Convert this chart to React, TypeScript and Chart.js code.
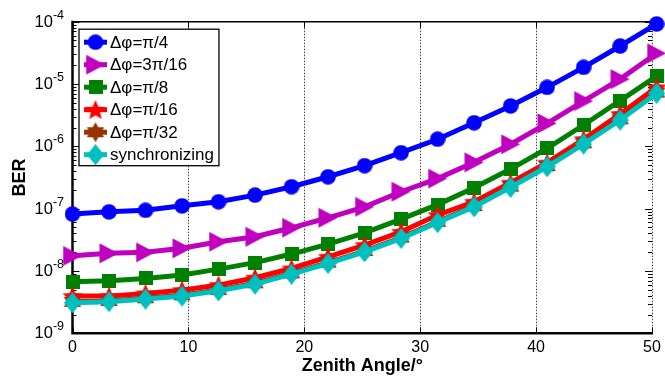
import React, { useEffect, useRef } from "react";
import { Chart, registerables } from "chart.js";

Chart.register(...registerables);

const ANGLES = [0, 3.15, 6.3, 9.45, 12.6, 15.75, 18.9, 22.05, 25.2, 28.35, 31.5, 34.65, 37.8, 40.95, 44.1, 47.25, 50.4];
const LABELS = ["Δφ=π/4", "Δφ=3π/16", "Δφ=π/8", "Δφ=π/16", "Δφ=π/32", "synchronizing"];
const BER_PI4 = [8.2e-8, 8.9e-8, 9.4e-8, 1.11e-7, 1.29e-7, 1.65e-7, 2.25e-7, 3.25e-7, 4.9e-7, 7.9e-7, 1.3e-6, 2.39e-6, 4.44e-6, 8.85e-6, 1.85e-5, 4.07e-5, 9.2e-5];
const BER_3PI16 = [1.75e-8, 1.92e-8, 1.99e-8, 2.31e-8, 2.94e-8, 3.54e-8, 4.93e-8, 7.14e-8, 1.07e-7, 1.87e-7, 3.04e-7, 5.54e-7, 1.08e-6, 2.34e-6, 5.33e-6, 1.2e-5, 3.11e-5];
const BER_PI8 = [6.7e-9, 6.97e-9, 7.6e-9, 8.6e-9, 1.07e-8, 1.36e-8, 1.87e-8, 2.7e-8, 4.1e-8, 6.8e-8, 1.16e-7, 2.16e-7, 4.32e-7, 9.3e-7, 2.2e-6, 5.4e-6, 1.34e-5];
const BER_PI16 = [3.95e-9, 3.95e-9, 4.37e-9, 4.93e-9, 5.94e-9, 7.8e-9, 1.1e-8, 1.69e-8, 2.6e-8, 4.26e-8, 7.9e-8, 1.29e-7, 2.6e-7, 5.46e-7, 1.3e-6, 3.3e-6, 8.85e-6];
const BER_PI32 = [3.2e-9, 3.3e-9, 3.65e-9, 4.07e-9, 4.95e-9, 6.35e-9, 9.15e-9, 1.36e-8, 2.09e-8, 3.43e-8, 6.15e-8, 1.1e-7, 2.26e-7, 4.84e-7, 1.12e-6, 2.72e-6, 7.3e-6];
const BER_SYNC = [3.09e-9, 3.21e-9, 3.54e-9, 3.95e-9, 4.8e-9, 6.17e-9, 8.9e-9, 1.32e-8, 2.03e-8, 3.33e-8, 5.98e-8, 1.07e-7, 2.2e-7, 4.7e-7, 1.09e-6, 2.64e-6, 7.1e-6];
const SERIES = [BER_PI4, BER_3PI16, BER_PI8, BER_PI16, BER_PI32, BER_SYNC];
const COLORS = ["#0000ff", "#bf00bf", "#008000", "#ff0000", "#993300", "#00bfbf"];
const X_TICKS = [0, 10, 20, 30, 40, 50];
const Y_EXPONENTS = [-9, -8, -7, -6, -5, -4];
const X_TITLE = "Zenith Angle/°";
const Y_TITLE = "BER";

const FONT = '"Liberation Sans", Arial, sans-serif';

function makeMarker(w: number, h: number, color: string, draw: (ctx: CanvasRenderingContext2D, w: number, h: number) => void) {
  const c = document.createElement("canvas");
  c.width = w;
  c.height = h;
  const ctx = c.getContext("2d")!;
  ctx.fillStyle = color;
  ctx.strokeStyle = color;
  ctx.lineWidth = 1;
  ctx.beginPath();
  draw(ctx, w, h);
  ctx.closePath();
  ctx.fill();
  return c;
}

function starPath(ctx: CanvasRenderingContext2D, cx: number, cy: number, n: number, R: number, r: number) {
  for (let i = 0; i < 2 * n; i++) {
    const a = -Math.PI / 2 + (i * Math.PI) / n;
    const rad = i % 2 === 0 ? R : r;
    const x = cx + Math.cos(a) * rad;
    const y = cy + Math.sin(a) * rad;
    if (i === 0) ctx.moveTo(x, y);
    else ctx.lineTo(x, y);
  }
}

function buildMarkers() {
  return [
    makeMarker(16, 16, COLORS[0], (ctx) => ctx.arc(8, 8, 7.8, 0, Math.PI * 2)),
    makeMarker(20, 21, COLORS[1], (ctx) => {
      ctx.moveTo(0.5, 0.5);
      ctx.lineTo(19.5, 10.5);
      ctx.lineTo(0.5, 20.5);
    }),
    makeMarker(14, 14, COLORS[2], (ctx) => ctx.rect(0, 0, 14, 14)),
    makeMarker(22, 22, COLORS[3], (ctx) => starPath(ctx, 11, 11.8, 5, 10.5, 4.8)),
    makeMarker(22, 22, COLORS[4], (ctx) => starPath(ctx, 11, 11, 6, 10, 5.8)),
    makeMarker(17, 21, COLORS[5], (ctx) => {
      ctx.moveTo(8.5, 0);
      ctx.lineTo(17, 10.5);
      ctx.lineTo(8.5, 21);
      ctx.lineTo(0, 10.5);
    }),
  ];
}

const framePlugin = {
  id: "matlabFrame",
  beforeDatasetsDraw(chart: any) {
    const { ctx, chartArea: a, scales } = chart;
    const xs = scales.x;
    const ys = scales.y;
    ctx.save();
    // dotted vertical grid lines
    ctx.strokeStyle = "#444";
    ctx.lineWidth = 1;
    ctx.setLineDash([1.5, 1.5]);
    X_TICKS.forEach((v) => {
      if (v === X_TICKS[0]) return;
      const px = Math.round(xs.getPixelForValue(v)) + 0.5;
      ctx.beginPath();
      ctx.moveTo(px, a.top);
      ctx.lineTo(px, a.bottom);
      ctx.stroke();
    });
    ctx.setLineDash([]);
    ctx.strokeStyle = "#000";
    ctx.lineWidth = 1;
    X_TICKS.forEach((v) => {
      const px = Math.round(xs.getPixelForValue(v)) + 0.5;
      ctx.beginPath();
      ctx.moveTo(px, a.top);
      ctx.lineTo(px, a.top + 6);
      ctx.moveTo(px, a.bottom);
      ctx.lineTo(px, a.bottom - 6);
      ctx.stroke();
    });
    Y_EXPONENTS.forEach((e, idx) => {
      for (let m = 1; m <= 9; m++) {
        if (idx === Y_EXPONENTS.length - 1 && m > 1) break;
        const py = Math.round(ys.getPixelForValue(m * Math.pow(10, e))) + 0.5;
        const len = m === 1 ? 7 : 4;
        ctx.beginPath();
        ctx.moveTo(a.left, py);
        ctx.lineTo(a.left + len, py);
        ctx.moveTo(a.right, py);
        ctx.lineTo(a.right - len, py);
        ctx.stroke();
      }
    });
    ctx.lineWidth = 1.5;
    ctx.beginPath();
    ctx.moveTo(a.left, a.top);
    ctx.lineTo(a.right + 1, a.top);
    ctx.stroke();
    ctx.lineWidth = 2.5;
    ctx.beginPath();
    ctx.moveTo(a.left, a.top - 1);
    ctx.lineTo(a.left, a.bottom);
    ctx.lineTo(a.right + 1, a.bottom);
    ctx.stroke();

    // tick labels
    ctx.fillStyle = "#000";
    ctx.font = `16px ${FONT}`;
    ctx.textAlign = "center";
    ctx.textBaseline = "middle";
    X_TICKS.forEach((v) => {
      ctx.fillText(String(v), xs.getPixelForValue(v), a.bottom + 14);
    });
    Y_EXPONENTS.forEach((e) => {
      const py = ys.getPixelForValue(Math.pow(10, e));
      const expText = String(e);
      ctx.font = `12.5px ${FONT}`;
      const ew = ctx.measureText(expText).width;
      const right = a.left - 8.5;
      ctx.textAlign = "left";
      ctx.textBaseline = "middle";
      ctx.fillText(expText, right - ew, py - 6.5);
      ctx.font = `16.5px ${FONT}`;
      ctx.textAlign = "right";
      ctx.fillText("10", right - ew, py + 0.5);
    });
    // axis titles
    ctx.font = `bold 18px ${FONT}`;
    ctx.textAlign = "center";
    ctx.textBaseline = "middle";
    ctx.fillText(X_TITLE, (a.left + a.right) / 2, a.bottom + 33);
    ctx.translate(20, (a.top + a.bottom) / 2);
    ctx.rotate(-Math.PI / 2);
    ctx.fillText(Y_TITLE, 0, 0);
    ctx.restore();
  },
  afterDraw(chart: any) {
    const { ctx, chartArea: a } = chart;
    const ds = chart.data.datasets;
    ctx.save();
    ctx.font = `17px ${FONT}`;
    let maxW = 0;
    ds.forEach((d: any) => {
      maxW = Math.max(maxW, ctx.measureText(d.label).width);
    });
    const left = a.left + 6.5;
    const top = a.top + 7.5;
    const rowH = 22.5;
    const w = 31 + maxW + 5;
    const h = rowH * ds.length + 1.5;
    ctx.fillStyle = "#fff";
    ctx.fillRect(left, top, w, h);
    ctx.strokeStyle = "#000";
    ctx.lineWidth = 1.3;
    ctx.strokeRect(left, top, w, h);
    ds.forEach((d: any, i: number) => {
      const cy = top + 13 + i * rowH;
      ctx.strokeStyle = d.borderColor;
      ctx.lineWidth = 5;
      ctx.beginPath();
      ctx.moveTo(left + 5, cy);
      ctx.lineTo(left + 28, cy);
      ctx.stroke();
      const img = d.pointStyle;
      ctx.drawImage(img, left + 16.5 - img.width / 2, cy - img.height / 2);
      ctx.fillStyle = "#000";
      ctx.textAlign = "left";
      ctx.textBaseline = "middle";
      ctx.fillText(d.label, left + 31, cy + 1);
    });
    ctx.restore();
  },
};

export default function App() {
  const ref = useRef<HTMLCanvasElement | null>(null);
  useEffect(() => {
    if (!ref.current) return;
    const markers = buildMarkers();
    const chart = new Chart(ref.current, {
      type: "line",
      data: {
        datasets: SERIES.map((vals, i) => ({
          label: LABELS[i],
          data: vals.map((v, j) => ({ x: ANGLES[j], y: v })),
          borderColor: COLORS[i],
          backgroundColor: COLORS[i],
          borderWidth: 5,
          pointStyle: markers[i] as any,
          pointRadius: 8,
          pointHoverRadius: 8,
          tension: 0,
          clip: false as any,
          order: SERIES.length - 1 - i,
        })),
      },
      options: {
        responsive: false,
        animation: false,
        events: [],
        layout: { padding: { left: 0, top: 21.7, right: 8.3, bottom: 0 } },
        plugins: { legend: { display: false }, tooltip: { enabled: false } },
        scales: {
          x: {
            type: "linear",
            min: 0,
            max: 50,
            ticks: { display: false },
            grid: { display: false },
            border: { display: false },
            afterFit: (s: any) => {
              s.height = 44.7;
            },
          },
          y: {
            type: "logarithmic",
            min: 1e-9,
            max: 1e-4,
            ticks: { display: false },
            grid: { display: false },
            border: { display: false },
            afterFit: (s: any) => {
              s.width = 72.5;
            },
          },
        },
      },
      plugins: [framePlugin],
    });
    return () => chart.destroy();
  }, []);
  return (
    <div style={{ position: "fixed", left: 0, top: 0, width: 665, height: 378, background: "#fff" }}>
      <canvas ref={ref} width={665} height={378} style={{ display: "block" }} />
    </div>
  );
}
